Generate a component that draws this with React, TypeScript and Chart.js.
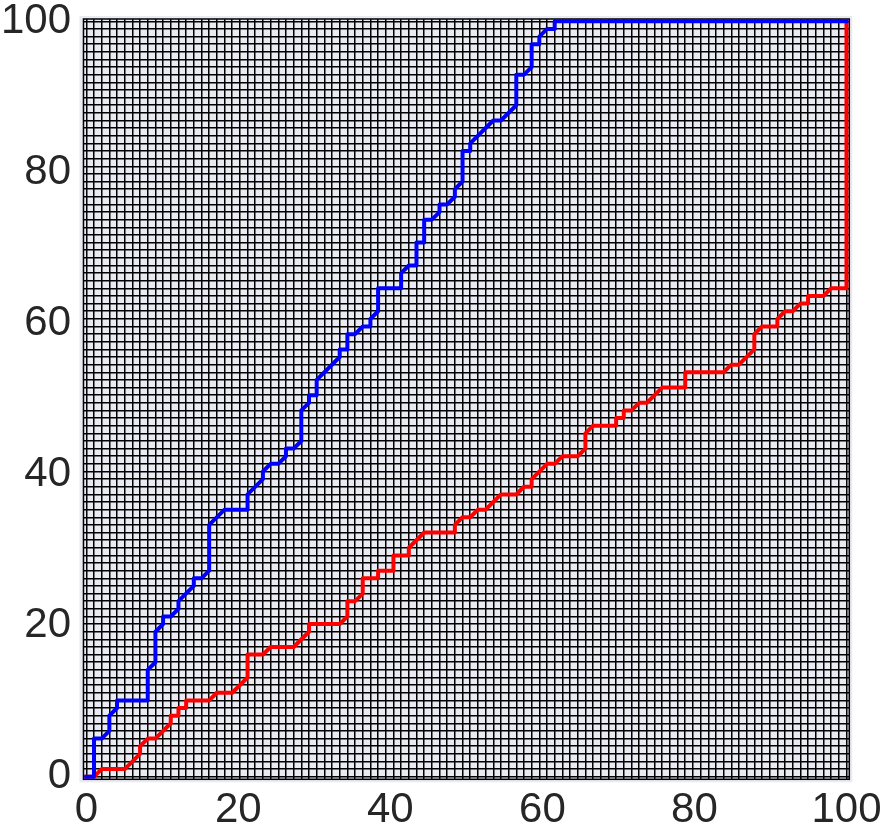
import React, { useEffect, useRef } from 'react';
import { Chart, registerables } from 'chart.js';

Chart.register(...registerables);

// Blue path vertices
const BLUE_X = [0, 1, 1, 2, 3, 3, 4, 4, 8, 8, 9, 9, 10, 10, 11, 12, 12, 14, 14, 15, 16, 16, 18, 21, 21, 23, 23, 24, 25, 26, 26, 27, 28, 28, 29, 29, 30, 30, 33, 33, 34, 34, 35, 36, 37, 37, 38, 38, 41, 41, 42, 43, 43, 44, 44, 45, 46, 46, 47, 48, 48, 49, 49, 50, 50, 53, 54, 56, 56, 57, 58, 58, 59, 59, 60, 61, 61, 99];
const BLUE_Y = [0, 0, 5, 5, 6, 8, 9, 10, 10, 14, 15, 19, 20, 21, 21, 22, 23, 25, 26, 26, 27, 33, 35, 35, 37, 39, 40, 41, 41, 42, 43, 43, 44, 48, 49, 50, 50, 52, 55, 56, 56, 58, 58, 59, 59, 60, 61, 64, 64, 66, 67, 67, 70, 70, 73, 73, 74, 75, 75, 76, 77, 78, 82, 82, 83, 86, 86, 88, 92, 92, 93, 96, 96, 97, 98, 98, 99, 99];

// Red path vertices
const RED_X = [0, 1, 2, 5, 7, 7, 8, 9, 11, 11, 12, 12, 13, 13, 16, 17, 19, 21, 21, 23, 24, 27, 29, 29, 33, 34, 34, 35, 36, 36, 38, 38, 40, 40, 42, 42, 44, 48, 48, 49, 50, 51, 52, 54, 56, 57, 58, 58, 60, 61, 62, 64, 65, 65, 66, 69, 69, 70, 70, 71, 72, 73, 75, 78, 78, 83, 84, 85, 87, 87, 88, 90, 90, 91, 92, 93, 94, 94, 96, 97, 99, 99];
const RED_Y = [0, 0, 1, 1, 3, 4, 5, 5, 7, 8, 8, 9, 9, 10, 10, 11, 11, 13, 16, 16, 17, 17, 19, 20, 20, 21, 23, 23, 24, 26, 26, 27, 27, 29, 29, 30, 32, 32, 33, 34, 34, 35, 35, 37, 37, 38, 38, 39, 41, 41, 42, 42, 43, 45, 46, 46, 47, 47, 48, 48, 49, 49, 51, 51, 53, 53, 54, 54, 56, 58, 59, 59, 60, 61, 61, 62, 62, 63, 63, 64, 64, 99];

// Tick labels and their positions
const TICK_VALUES = [0, 19.8, 39.6, 59.4, 79.2, 99];
const TICK_LABELS = ['0', '20', '40', '60', '80', '100'];

// Fine grid (every unit)
const GRID_FIRST = 0;
const GRID_LAST = 99;

const X_MIN = -0.37;
const X_MAX = 99.37;
const Y_MIN = -0.34;
const Y_MAX = 99.3;

const FONT = { family: "'Liberation Sans', Arial, Helvetica, sans-serif", size: 42, lineHeight: 1 };

const toPoints = (xs: number[], ys: number[]) => xs.map((x, i) => ({ x, y: ys[i] }));

function buildTicks(scale: any) {
  const vals = new Set<number>();
  for (let v = GRID_FIRST; v <= GRID_LAST; v++) vals.add(v);
  TICK_VALUES.forEach((v) => vals.add(v));
  scale.ticks = Array.from(vals)
    .sort((a, b) => a - b)
    .map((value) => ({ value }));
}

const gridColor = (ctx: any) => {
  const v = ctx.tick ? ctx.tick.value : NaN;
  return Number.isInteger(v) ? '#000000' : 'rgba(0,0,0,0)';
};

const labelFor = (v: any) => {
  const i = TICK_VALUES.indexOf(Number(v));
  return i >= 0 ? TICK_LABELS[i] : '';
};

const framePlugin = {
  id: 'frameBg',
  beforeDraw(chart: any) {
    const { ctx, chartArea: a } = chart;
    ctx.save();
    ctx.fillStyle = '#ffffff';
    ctx.fillRect(0, 0, chart.width, chart.height);
    ctx.fillStyle = '#EAEAF2';
    ctx.fillRect(a.left - 4, a.top - 3, a.right - a.left + 7, a.bottom - a.top + 6);
    ctx.restore();
  },
  beforeDatasetsDraw(chart: any) {
    const { ctx, chartArea: a } = chart;
    ctx.save();
    ctx.strokeStyle = '#000000';
    ctx.lineWidth = 1.5;
    ctx.strokeRect(a.left, a.top, a.right - a.left, a.bottom - a.top);
    ctx.restore();
  },
};

export default function App() {
  const ref = useRef<HTMLCanvasElement>(null);

  useEffect(() => {
    if (!ref.current) return;
    const common = {
      grid: { color: gridColor, lineWidth: 1.5, drawTicks: false },
      border: { display: false },
      bounds: 'data' as const,
      afterBuildTicks: buildTicks,
    };
    const chart = new Chart(ref.current, {
      type: 'line',
      data: {
        datasets: [
          {
            label: 'blue',
            data: toPoints(BLUE_X, BLUE_Y),
            borderColor: '#0000ff',
            backgroundColor: '#0000ff',
            borderWidth: 4,
            pointRadius: 0,
            fill: false,
            tension: 0,
            borderJoinStyle: 'round',
            borderCapStyle: 'square',
          },
          {
            label: 'red',
            data: toPoints(RED_X, RED_Y),
            borderColor: '#ff0000',
            backgroundColor: '#ff0000',
            borderWidth: 4,
            pointRadius: 0,
            fill: false,
            tension: 0,
            borderJoinStyle: 'round',
            borderCapStyle: 'square',
          },
        ],
      },
      options: {
        responsive: false,
        animation: false,
        devicePixelRatio: 1,
        layout: { padding: { left: 1, right: 38.7, top: 19, bottom: 0.5 } },
        plugins: { legend: { display: false }, tooltip: { enabled: false } },
        scales: {
          x: {
            type: 'linear',
            min: X_MIN,
            max: X_MAX,
            ...common,
            afterFit: (s: any) => {
              s.paddingLeft = 0;
              s.paddingRight = 0;
              s.height = s.height - s.options.ticks.padding;
            },
            ticks: {
              autoSkip: false,
              maxRotation: 0,
              minRotation: 0,
              padding: 10.2,
              color: '#262626',
              font: FONT,
              callback: (v: any) => labelFor(v),
            },
          },
          y: {
            type: 'linear',
            min: Y_MIN,
            max: Y_MAX,
            ...common,
            afterFit: (s: any) => {
              s.paddingTop = 0;
              s.paddingBottom = 0;
              s.width = s.width - s.options.ticks.padding;
            },
            ticks: {
              autoSkip: false,
              padding: 12.4,
              color: '#262626',
              font: FONT,
              callback: (v: any) => labelFor(v),
            },
          },
        },
      } as any,
      plugins: [framePlugin],
    });
    return () => chart.destroy();
  }, []);

  return (
    <div style={{ position: 'absolute', left: 0, top: 0, width: 888, height: 832, background: '#ffffff' }}>
      <canvas ref={ref} width={888} height={832} style={{ display: 'block', width: 888, height: 832 }} />
    </div>
  );
}
